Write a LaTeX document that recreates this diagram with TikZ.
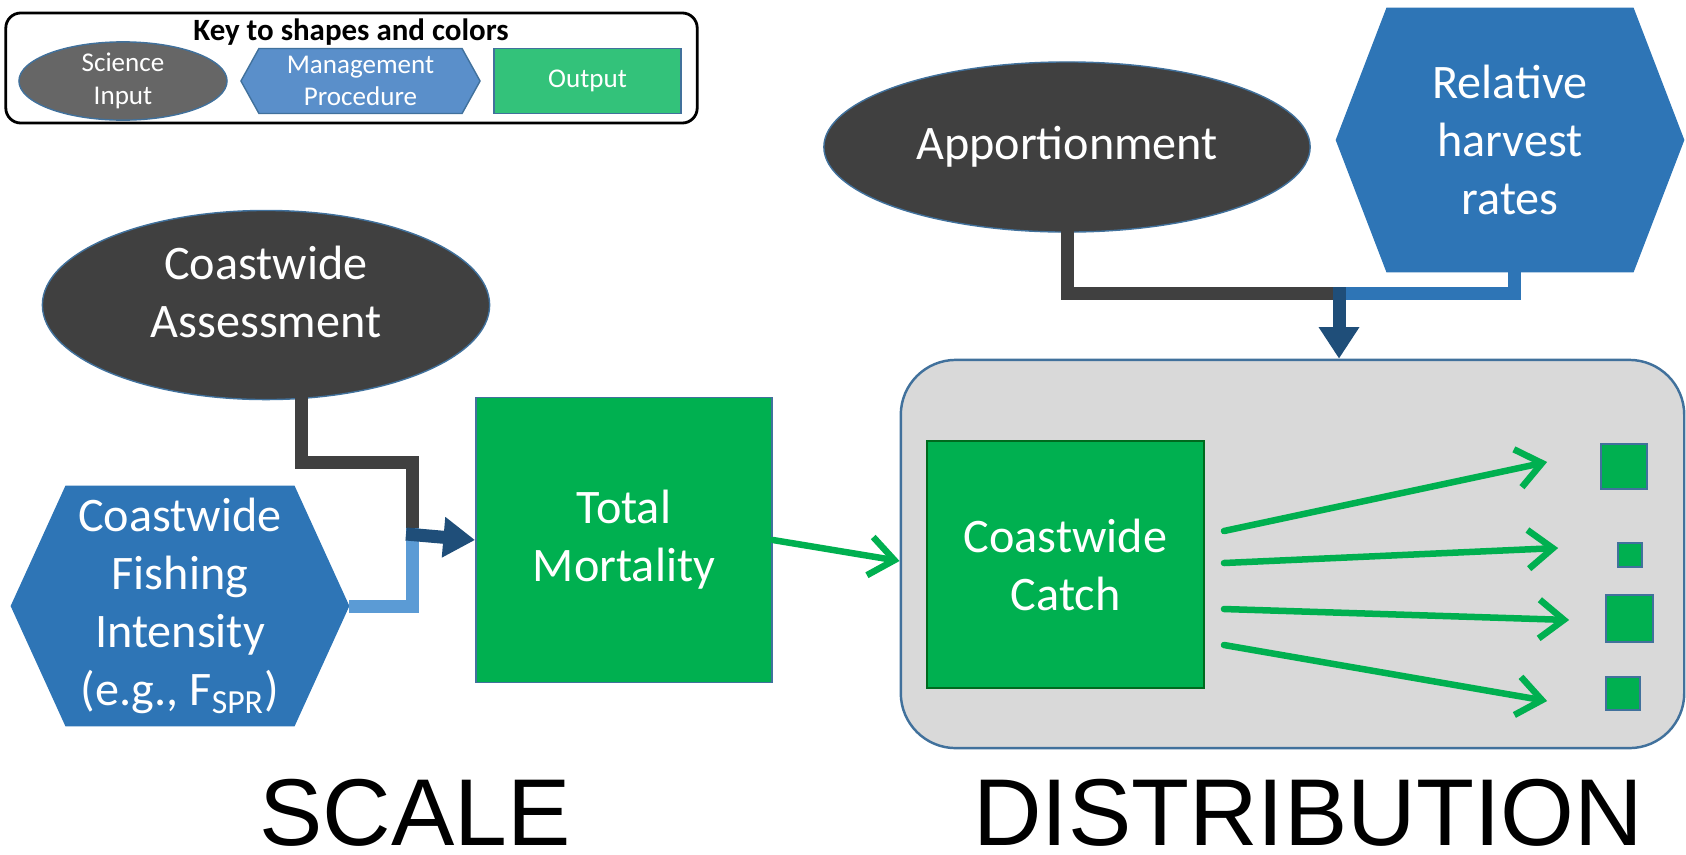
\documentclass[tikz,border=0pt]{standalone}
\usepackage{fontspec}
\setmainfont{Carlito}
\newfontfamily\arialfont{Liberation Sans}
\usetikzlibrary{shapes.geometric,shapes.symbols,arrows.meta}

\definecolor{scigray}{HTML}{404040}
\definecolor{keygray}{HTML}{666666}
\definecolor{mgmtblue}{HTML}{2E75B6}
\definecolor{keyblue}{HTML}{5A8FCA}
\definecolor{outgreen}{HTML}{00B050}
\definecolor{keygreen}{HTML}{33C27A}
\definecolor{edgeblue}{HTML}{41719C}
\definecolor{pipeblue}{HTML}{5B9BD5}
\definecolor{arrowblue}{HTML}{1F4E79}
\definecolor{boxgray}{HTML}{D9D9D9}
\definecolor{catchedge}{HTML}{006A1E}

\newcommand\bigtxt{\fontsize{13.7pt}{16.5pt}\selectfont}
\newcommand\keytxt{\fontsize{7.7pt}{9.2pt}\selectfont}
\newcommand\keyhead{\fontsize{8.8pt}{10pt}\selectfont\bfseries}
\newcommand\captxt{\arialfont\fontsize{27pt}{30pt}\selectfont}

\tikzset{
  sciin/.style={ellipse, fill=scigray, draw=edgeblue, line width=0.4pt,
    text=white, align=center, inner sep=0pt, font=\bigtxt},
  mgmt/.style={signal, signal to=east and west, fill=mgmtblue, draw=mgmtblue,
    text=white, align=center, inner sep=0pt, font=\bigtxt},
  outbox/.style={rectangle, fill=outgreen, draw=edgeblue, line width=0.5pt,
    text=white, align=center, inner sep=0pt, font=\bigtxt},
  whitetxt/.style={text=white, align=center, inner sep=0pt, font=\bigtxt},
  distbox/.style={rectangle, rounded corners=0.55cm, fill=boxgray,
    draw=edgeblue, line width=0.7pt},
  keyframe/.style={rectangle, rounded corners=0.15cm, draw=black, line width=0.8pt},
  pipe/.style={line width=3.7pt},
  bigarrow/.style={draw=arrowblue, line width=3.7pt,
    -{Triangle[length=9pt,width=11pt]}},
  greenarrow/.style={draw=outgreen, line width=1.85pt, line cap=round,
    line join=round, -{Straight Barb[length=7pt,width=11pt]}}
}

\begin{document}
\begin{tikzpicture}[x=0.01cm,y=-0.01cm]
\useasboundingbox (0,0) rectangle (1686,854);

% key to shapes and colors
\node[keyframe, minimum width=6.91cm, minimum height=1.10cm] (key) at (351.5,68) {};
\node[font=\keyhead, anchor=base] (keytitle) at (351,40) {Key to shapes and colors};
\node[sciin, fill=keygray, font=\keytxt, minimum width=2.08cm, minimum height=0.65cm] (keysci) at (123,81) {Science\\Input};
\node[mgmt, fill=keyblue, draw=edgeblue, line width=0.4pt, font=\keytxt, signal pointer angle=122, minimum width=2.39cm, minimum height=0.65cm] (keymgmt) at (360.5,81) {Management\\Procedure};
\node[outbox, fill=keygreen, font=\keytxt, minimum width=1.87cm, minimum height=0.65cm] (keyout) at (587.5,81) {Output};

% scale
\node[sciin, minimum width=4.47cm, minimum height=1.89cm] (assess) at (266,305) {};
\node[whitetxt] (assesstxt) at (266,292) {Coastwide\\Assessment};
\node[mgmt, signal pointer angle=131, minimum width=3.37cm, minimum height=2.39cm] (fish) at (180,606) {Coastwide\\Fishing\\Intensity\\(e.g., F\textsubscript{SPR})};
\node[outbox, minimum width=2.96cm, minimum height=2.85cm] (total) at (624,540) {Total\\Mortality};
\coordinate (jA) at (412,534);

\draw[pipe, draw=scigray] ([xshift=0.35cm, yshift=0.03cm]assess.south) -- ++(0,65) -| (jA);
\draw[pipe, draw=pipeblue] (fish.east) -| ([yshift=0.06cm]jA);
\draw[bigarrow] ([xshift=-0.06cm]jA) -- (total.west);

% distribution
\node[sciin, minimum width=4.86cm, minimum height=1.70cm] (apport) at (1067,147) {Apportionment};
\node[mgmt, signal pointer angle=138, minimum width=3.47cm, minimum height=2.63cm] (harvest) at (1510,140) {Relative\\harvest\\rates};
\node[distbox, minimum width=7.83cm, minimum height=3.88cm] (dist) at (1292.5,554) {};
\node[outbox, draw=catchedge, minimum width=2.77cm, minimum height=2.47cm] (catch) at (1065.5,564.5) {Coastwide\\Catch};
\coordinate (jB) at (1339,293);

\draw[pipe, draw=scigray] ([yshift=0.03cm]apport.south) |- (jB);
\draw[pipe, draw=mgmtblue] ([xshift=0.04cm, yshift=0.03cm]harvest.south) |- ([xshift=-0.06cm]jB);
\draw[bigarrow] ([yshift=0.06cm]jB) -- (jB |- dist.north);
\draw[greenarrow] (total.east) -- ([yshift=-0.07cm]dist.west);

\node[outbox, minimum width=0.46cm, minimum height=0.45cm] (sq1) at (1624,466.5) {};
\node[outbox, minimum width=0.24cm, minimum height=0.24cm] (sq2) at (1630,555) {};
\node[outbox, minimum width=0.47cm, minimum height=0.47cm] (sq3) at (1629.5,618.5) {};
\node[outbox, minimum width=0.34cm, minimum height=0.33cm] (sq4) at (1623,693.5) {};

\draw[greenarrow] ([shift={(19,-33.5)}]catch.east) -- ([shift={(-53,-4.5)}]sq1.west); % share 1
\draw[greenarrow] ([shift={(19,-1.5)}]catch.east) -- ([shift={(-59,-7)}]sq2.west); % share 2
\draw[greenarrow] ([shift={(19,44.5)}]catch.east) -- ([shift={(-36,1.5)}]sq3.west); % share 3
\draw[greenarrow] ([shift={(19,80.5)}]catch.east) -- ([shift={(-58,7.5)}]sq4.west); % share 4

% captions
\node[font=\captxt] (scale) at (415,813) {SCALE};
\node[font=\captxt] (distcap) at (1308,813) {DISTRIBUTION};

\end{tikzpicture}
\end{document}
